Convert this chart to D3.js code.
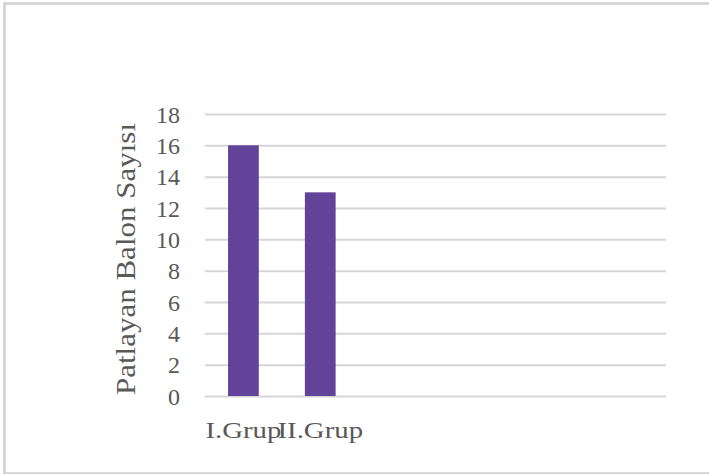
<!DOCTYPE html>
<html><head><meta charset="utf-8">
<script src="https://cdn.jsdelivr.net/npm/d3@7"></script>
<style>body{margin:0;background:#fff;}svg{display:block;}</style>
</head><body>
<script>
const categories = ["I.Grup", "II.Grup", "c3", "c4", "c5", "c6"];
const labels = ["I.Grup", "II.Grup", "", "", "", ""];
const values = [16, 13, null, null, null, null];
const yTicks = [0, 2, 4, 6, 8, 10, 12, 14, 16, 18];
const yTitle = "Patlayan Balon Sayısı";

const W = 709, H = 474;
const svg = d3.select("body").append("svg").attr("width", W).attr("height", H);
svg.append("rect").attr("x", 4.5).attr("y", 3.5).attr("width", 720).attr("height", 470)
  .attr("fill", "#fff").attr("stroke", "#d0d0d0").attr("stroke-width", 2.5);

const pLeft = 205, pRight = 666, pTop = 114, pBottom = 396;
const x = d3.scaleBand().domain(categories).range([pLeft, pRight]).paddingInner(0.6).paddingOuter(0.3);
const y = d3.scaleLinear().domain([0, 18]).range([pBottom, pTop]);

const grid = svg.append("g").attr("transform", `translate(${pLeft},0)`)
  .call(d3.axisLeft(y).tickValues(yTicks).tickSize(-(pRight - pLeft)).tickFormat(""));
grid.select(".domain").remove();
grid.selectAll("line").attr("stroke", "#d6d6d6").attr("stroke-width", 2);

const yAxis = svg.append("g").attr("transform", `translate(180,0)`)
  .call(d3.axisLeft(y).tickValues(yTicks).tickSize(0).tickPadding(0));
yAxis.select(".domain").remove();
yAxis.selectAll("text").attr("font-family", "Liberation Serif").attr("font-size", 24)
  .attr("fill", "#595959").attr("dy", "0.34em");

svg.append("g").selectAll("rect").data(categories.map((c, i) => ({c, v: values[i]})).filter(d => d.v != null))
  .join("rect")
  .attr("x", d => x(d.c)).attr("width", x.bandwidth())
  .attr("y", d => y(d.v)).attr("height", d => y(0) - y(d.v))
  .attr("fill", "#62439a");

const xAxis = svg.append("g").attr("transform", `translate(0,${pBottom})`)
  .call(d3.axisBottom(x).tickSize(0).tickPadding(0).tickFormat((d, i) => labels[i]));
xAxis.select(".domain").remove();
xAxis.selectAll("text").attr("font-family", "Liberation Serif").attr("font-size", 24)
  .attr("fill", "#595959").attr("dy", "1.75em")
  .each(function() {
    const len = this.getComputedTextLength();
    if (len > 0) d3.select(this).attr("textLength", len * 1.2).attr("lengthAdjust", "spacingAndGlyphs");
  });

svg.append("text").attr("transform", `translate(135,259) rotate(-90)`)
  .attr("text-anchor", "middle").attr("font-family", "Liberation Serif").attr("font-size", 27)
  .attr("fill", "#595959").attr("textLength", 272).attr("lengthAdjust", "spacingAndGlyphs").text(yTitle);
</script>
</body></html>
